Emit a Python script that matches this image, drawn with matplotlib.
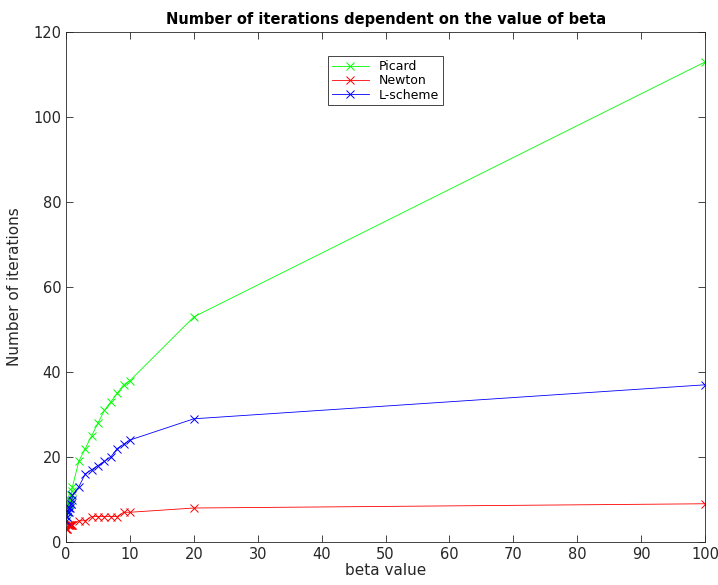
import matplotlib.pyplot as plt

# beta values and iteration counts for each solver
beta = [0, 0.1, 0.2, 0.3, 0.4, 0.5, 0.6, 0.7, 0.8, 0.9, 1,
        2, 3, 4, 5, 6, 7, 8, 9, 10, 20, 100]
picard = [5, 7, 8, 9, 9, 10, 10, 11, 11, 12, 13,
          19, 22, 25, 28, 31, 33, 35, 37, 38, 53, 113]
newton = [3, 3, 3, 4, 4, 4, 4, 4, 4, 4, 4,
          5, 5, 6, 6, 6, 6, 6, 7, 7, 8, 9]
lscheme = [5, 6, 6, 7, 7, 8, 8, 9, 9, 10, 11,
           13, 16, 17, 18, 19, 20, 22, 23, 24, 29, 37]

fig = plt.figure(figsize=(7.18, 5.85), dpi=100)
ax = fig.add_axes([0.092, 0.0735, 0.89, 0.8715])

ax.plot(beta, picard, color=(0, 1, 0), marker='x', lw=0.6, ms=6, mew=0.7, label='Picard')
ax.plot(beta, newton, color=(1, 0, 0), marker='x', lw=0.6, ms=6, mew=0.7, label='Newton')
ax.plot(beta, lscheme, color=(0, 0, 1), marker='x', lw=0.6, ms=6, mew=0.7, label='L-scheme')

ax.set_xlim(0, 100)
ax.set_ylim(0, 120)
ax.set_xticks(range(0, 101, 10))
ax.set_yticks(range(0, 121, 20))
ax.tick_params(direction='in', top=True, right=True, labelsize=10.5,
               colors='#262626', length=5, width=0.6)
for s in ax.spines.values():
    s.set_linewidth(0.6)
    s.set_color('#262626')

ax.set_title('Number of iterations dependent on the value of beta',
             fontsize=10.5, fontweight='bold', pad=6)
ax.set_xlabel('beta value', fontsize=11, color='#262626', labelpad=1)
ax.set_ylabel('Number of iterations', fontsize=11, color='#262626', labelpad=8)

leg = ax.legend(loc='upper center', bbox_to_anchor=(0.5, 0.965), fontsize=9,
                fancybox=False, edgecolor='#262626', framealpha=1,
                handlelength=3, borderpad=0.3, labelspacing=0.1)
leg.get_frame().set_linewidth(0.6)

fig.savefig('out.png', dpi=100)
